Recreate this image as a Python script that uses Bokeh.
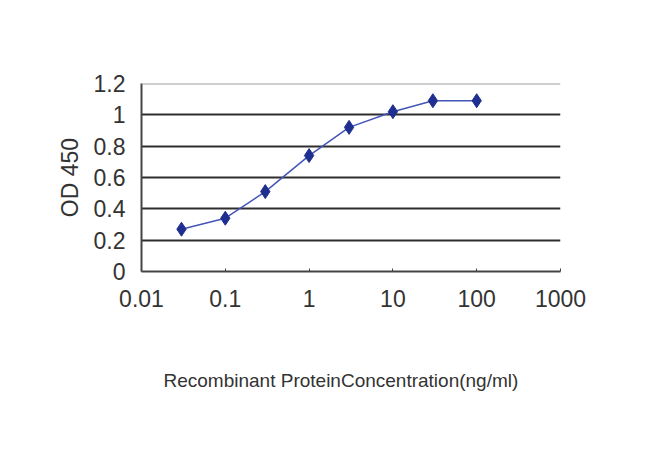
from bokeh.plotting import figure
from bokeh.models import FixedTicker, Span, CustomJSTickFormatter, Title
from bokeh.embed import file_html
from bokeh.resources import INLINE

conc = [0.03, 0.1, 0.3, 1, 3, 10, 30, 100]
od450 = [0.27, 0.34, 0.51, 0.74, 0.92, 1.02, 1.09, 1.09]
x_ticks = [0.01, 0.1, 1, 10, 100, 1000]
y_ticks = [0, 0.2, 0.4, 0.6, 0.8, 1.0, 1.2]

p = figure(width=634, height=450, x_axis_type="log", x_range=(0.01, 1000), y_range=(0, 1.2),
           output_backend="svg", toolbar_location=None,
           min_border_left=141, min_border_right=74, min_border_top=83, min_border_bottom=179)
p.background_fill_color = "white"
p.border_fill_color = "white"
p.outline_line_color = None

p.line(conc, od450, line_color="#4455b8", line_width=1.5)
p.scatter(conc, od450, marker="diamond", size=14, fill_color="#1f2f8f", line_color="#1f2f8f")

p.xgrid.grid_line_color = None
p.ygrid.ticker = FixedTicker(ticks=[0.2, 0.4, 0.6, 0.8, 1.0])
p.ygrid.grid_line_color = "#2e2e2e"
p.ygrid.grid_line_width = 2
p.add_layout(Span(location=1.2, dimension="width", line_color="#a0a0a0", line_width=2))

font = "Liberation Sans"
p.xaxis.ticker = FixedTicker(ticks=x_ticks)
p.xaxis.formatter = CustomJSTickFormatter(code="return String(tick);")
p.yaxis.ticker = FixedTicker(ticks=y_ticks)
p.yaxis.formatter = CustomJSTickFormatter(code="return String(tick);")
for ax in (p.xaxis[0], p.yaxis[0]):
    ax.axis_line_color = "#444444"
    ax.axis_line_width = 2
    ax.major_label_text_font = font
    ax.major_label_text_font_size = "23px"
    ax.major_label_text_color = "#333333"
    ax.axis_label_text_font = font
    ax.axis_label_text_font_style = "normal"
    ax.axis_label_text_color = "#333333"
    ax.minor_tick_line_color = None
p.xaxis.major_tick_in = 3
p.xaxis.major_tick_out = 0
p.xaxis.major_tick_line_color = "#444444"
p.xaxis.major_label_standoff = 18
p.yaxis.major_tick_line_color = None
p.yaxis.major_label_standoff = 10

xlabel = Title(text="Recombinant ProteinConcentration(ng/ml)", align="left", offset=22,
               text_font=font, text_font_size="19px", text_font_style="normal",
               text_color="#333333", standoff=116)
p.add_layout(xlabel, "below")
p.yaxis.axis_label = "OD 450"
p.yaxis.axis_label_text_font_size = "23px"
p.yaxis.axis_label_standoff = 8

open("out.html", "w").write(file_html(p, INLINE))
